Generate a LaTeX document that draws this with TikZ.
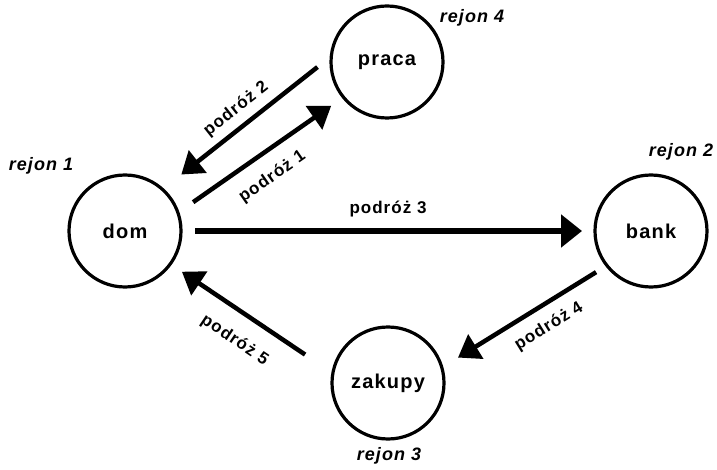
\documentclass[tikz,border=0pt]{standalone}
\usepackage{fontspec}
\setmainfont{Liberation Sans}[LetterSpace=6]
\usetikzlibrary{arrows.meta, positioning}

\begin{document}
\begin{tikzpicture}[x=1pt, y=-1pt, every node/.style={font=\bfseries\fontsize{17}{19}\selectfont},
  place/.style={draw, circle, line width=3.2pt, minimum size=112pt, inner sep=0pt, outer sep=0pt, font=\bfseries\fontsize{20}{22}\selectfont},
  trip/.style={line width=4.5pt, -{Triangle[length=21pt, width=28pt]}},
  region/.style={font=\bfseries\itshape\fontsize{18}{20}\selectfont}]
  \useasboundingbox (0,0) rectangle (717,470);
  % places
  \node[place] (dom) at (125,231) {dom};
  \node[place] (praca) at (387,62) {praca};
  \node[place] (bank) at (651,231) {bank};
  \node[place] (zakupy) at (388,383) {zakupy};
  % regions
  \node[region] (rej1) at (41,166) {rejon 1};
  \node[region] (rej2) at (681,152) {rejon 2};
  \node[region] (rej3) at (389,456) {rejon 3};
  \node[region] (rej4) at (472,18) {rejon 4};
  % trips
  \draw[trip, shorten <=18.5pt, shorten >=15pt] (dom.19) -- (praca.219) node[pos=0.485, sloped, below=11pt] {podróż 1};
  \draw[trip, shorten <=17.6pt, shorten >=24pt] (praca.174) -- (dom.48) node[midway, sloped, above=4pt] {podróż 2};
  \draw[trip, line width=6.5pt, -{Triangle[length=21pt, width=32pt]}, shorten <=14pt, shorten >=13pt] (dom.east) -- (bank.west) node[midway, above=7pt] {podróż 3};
  \draw[trip, shorten <=12.7pt, shorten >=19pt] (bank.218) -- (zakupy.16) node[pos=0.42, sloped, below=8pt] {podróż 4};
  \draw[trip, shorten <=33.5pt, shorten >=14pt] (zakupy.170) -- (dom.-36) node[pos=0.51, sloped, below=14pt] {podróż 5};
\end{tikzpicture}
\end{document}
